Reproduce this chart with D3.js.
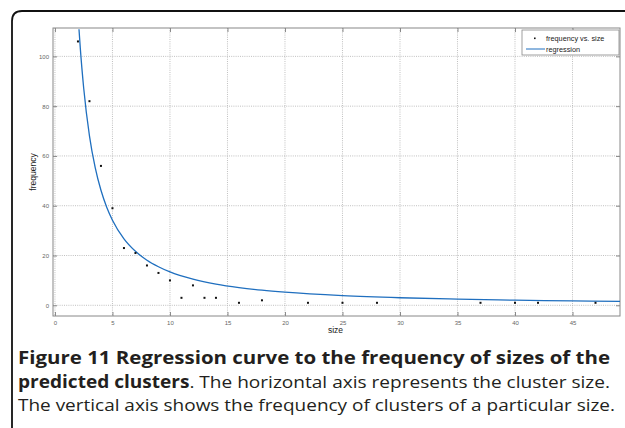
<!DOCTYPE html>
<html><head><meta charset="utf-8">
<script src="https://cdn.jsdelivr.net/npm/d3@7"></script>
<style>body{margin:0;background:#fff}svg{display:block}</style>
</head><body>
<svg id="c" width="625" height="428"></svg>
<script>
// Data
const sizes = [2,3,4,5,6,7,8,9,10,11,12,13,14,16,18,22,25,28,37,40,42,47];
const freqs = [106,82,56,39,23,21,16,13,10,3,8,3,3,1,2,1,1,1,1,1,1,1];
const curveX = [2.09,2.2,2.5,3,3.5,4,4.5,5,6,7,8,9,10,12,14,16,18,20,25,30,35,40,45,49.2];
const curveY = [110.9,103.5,87.2,68.1,55.3,46.2,39.4,34.2,26.7,21.7,18.1,15.5,13.4,10.5,8.5,7.1,6.06,5.26,3.89,3.04,2.47,2.06,1.76,1.57];
const xTicks = [0,5,10,15,20,25,30,35,40,45];
const yTicks = [0,20,40,60,80,100];
const legendLabels = ["frequency vs. size","regression"];

const svg = d3.select("#c");
// frame
svg.append("path").attr("d","M12,428 L12,21 Q12,11 22,11 L625,11")
  .attr("fill","none").attr("stroke","#111").attr("stroke-width",1.8);

const L=53,R=620,T=28,B=316;
const x = d3.scaleLinear().domain([-0.17,49.13]).range([L,R]);
const y = d3.scaleLinear().domain([-4.3,111.4]).range([B,T]);

svg.append("clipPath").attr("id","clip").append("rect").attr("x",L).attr("y",T).attr("width",R-L).attr("height",B-T);

const g = svg.append("g");
// grid
g.selectAll(".gx").data(xTicks).join("line")
  .attr("x1",d=>x(d)).attr("x2",d=>x(d)).attr("y1",T).attr("y2",B)
  .attr("stroke","#b0b0b0").attr("stroke-width",0.8).attr("stroke-dasharray","1,1.2");
g.selectAll(".gy").data(yTicks).join("line")
  .attr("y1",d=>y(d)).attr("y2",d=>y(d)).attr("x1",L).attr("x2",R)
  .attr("stroke","#b0b0b0").attr("stroke-width",0.8).attr("stroke-dasharray","1,1.2");

// axes
const axB = d3.axisBottom(x).tickValues(xTicks).tickSize(-4).tickPadding(5);
const axT = d3.axisTop(x).tickValues(xTicks).tickSize(-4).tickFormat("");
const axL = d3.axisLeft(y).tickValues(yTicks).tickSize(-4).tickPadding(4);
const axR = d3.axisRight(y).tickValues(yTicks).tickSize(-4).tickFormat("");
function style(sel){
  sel.select(".domain").attr("stroke","#888").attr("stroke-width",1);
  sel.selectAll(".tick line").attr("stroke","#888");
  sel.selectAll("text").attr("fill","#666").style("font-family","Liberation Sans, Arial, sans-serif").style("font-size","6px");
}
svg.append("g").attr("transform",`translate(0,${B})`).call(axB).call(style);
svg.append("g").attr("transform",`translate(0,${T})`).call(axT).call(style);
svg.append("g").attr("transform",`translate(${L},0)`).call(axL).call(style);
svg.append("g").attr("transform",`translate(${R},0)`).call(axR).call(style);
svg.selectAll(".domain").attr("d",null);
svg.append("rect").attr("x",L).attr("y",T).attr("width",R-L).attr("height",B-T)
  .attr("fill","none").attr("stroke","#888").attr("stroke-width",1);

// curve
const line = d3.line().x(d=>x(d[0])).y(d=>y(d[1])).curve(d3.curveMonotoneX);
svg.append("path").datum(curveX.map((v,i)=>[v,curveY[i]]))
  .attr("clip-path","url(#clip)")
  .attr("d",line).attr("fill","none").attr("stroke","#1f6fbf").attr("stroke-width",1.3);

// points
svg.selectAll(".pt").data(sizes.map((s,i)=>[s,freqs[i]])).join("rect")
  .attr("x",d=>x(d[0])-1).attr("y",d=>y(d[1])-1).attr("width",2).attr("height",2).attr("fill","#111");

// labels
svg.append("text").attr("x",335.5).attr("y",333).attr("text-anchor","middle")
  .style("font-family","Liberation Sans, Arial, sans-serif").style("font-size","8.5px").attr("fill","#222").text("size");
svg.append("text").attr("transform","translate(36,172) rotate(-90)").attr("text-anchor","middle")
  .style("font-family","Liberation Sans, Arial, sans-serif").style("font-size","8.5px").attr("fill","#222").text("frequency");

// legend
const lg = svg.append("g");
lg.append("rect").attr("x",522).attr("y",30).attr("width",97).attr("height",25).attr("fill","#fff").attr("stroke","#888").attr("stroke-width",0.8);
lg.append("rect").attr("x",534).attr("y",37.5).attr("width",1.6).attr("height",1.6).attr("fill","#111");
lg.append("line").attr("x1",526).attr("x2",545).attr("y1",49).attr("y2",49).attr("stroke","#1f6fbf").attr("stroke-width",1);
lg.selectAll("text").data(legendLabels).join("text")
  .attr("x",546).attr("y",(d,i)=>40.8+i*11).text(d=>d)
  .style("font-family","Liberation Sans, Arial, sans-serif").style("font-size","7.3px").attr("fill","#222");

// caption
const cap = svg.append("g").style("font-family","Open Sans, Noto Sans, sans-serif").style("font-size","17px").attr("fill","#231f20");
const t1 = cap.append("text").attr("x",18).attr("y",364).attr("textLength",592).attr("lengthAdjust","spacingAndGlyphs");
t1.append("tspan").attr("font-weight","bold").text("Figure 11 Regression curve to the frequency of sizes of the");
const t2 = cap.append("text").attr("x",18).attr("y",387.5).attr("textLength",592).attr("lengthAdjust","spacingAndGlyphs");
t2.append("tspan").attr("font-weight","bold").text("predicted clusters");
t2.append("tspan").text(". The horizontal axis represents the cluster size.");
cap.append("text").attr("x",18).attr("y",411).attr("textLength",597).attr("lengthAdjust","spacingAndGlyphs")
  .text("The vertical axis shows the frequency of clusters of a particular size.");
</script>
</body></html>
